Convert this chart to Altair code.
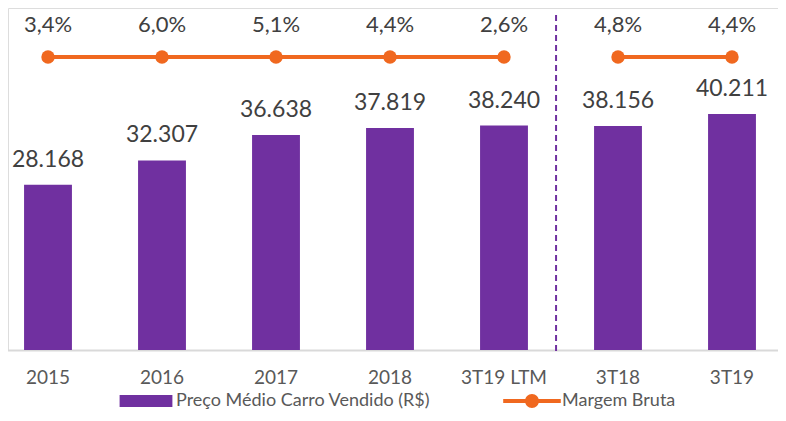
import altair as alt
import pandas as pd

categorias = ["2015", "2016", "2017", "2018", "3T19 LTM", "3T18", "3T19"]
preco_medio = [28168, 32307, 36638, 37819, 38240, 38156, 40211]
margem_bruta = [3.4, 6.0, 5.1, 4.4, 2.6, 4.8, 4.4]
grupo = ["anual", "anual", "anual", "anual", "anual", "trimestral", "trimestral"]

SERIE_BAR = "Preço Médio Carro Vendido (R$)"
SERIE_LINE = "Margem Bruta"
ROXO = "#7030A0"
LARANJA = "#F0681F"
FONTE = "Lato"

df = pd.DataFrame({
    "cat": categorias,
    "preco": preco_medio,
    "margem": margem_bruta,
    "grupo": grupo,
})

x_enc = alt.X(
    "cat:N",
    sort=categorias,
    scale=alt.Scale(range=[-17, 781], paddingInner=0.58, paddingOuter=0.29),
    axis=alt.Axis(
        title=None, labelAngle=0, ticks=False, grid=False,
        domainColor="#D9D9D9", domainWidth=2,
        labelFont=FONTE, labelFontSize=19, labelColor="#595959",
        labelPadding=18,
    ),
)

color_scale = alt.Scale(domain=[SERIE_BAR, SERIE_LINE], range=[ROXO, LARANJA])

line_path = ("M-2.4,-0.17H-0.5V0.17H-2.4Z M0.5,-0.17H2.4V0.17H0.5Z "
             "M0.58,0A0.58,0.58 0 1,1 -0.58,0A0.58,0.58 0 1,1 0.58,0Z")
bar_path = "M-2.2,-0.5H2.2V0.5H-2.2Z"

legend = alt.Legend(
    title=None, orient="none", legendX=126, legendY=381,
    direction="horizontal", symbolSize=576, labelOffset=18,
    labelFont=FONTE, labelFontSize=18, labelColor="#595959", labelLimit=400,
    columnPadding=72, symbolStrokeWidth=0, symbolOpacity=1,
    symbolType=alt.ExprRef(f"datum.value === '{SERIE_LINE}' ? '{line_path}' : '{bar_path}'"),
)

base = alt.Chart(df)

y_scale = alt.Scale(domain=[0, 58272])

bars = base.transform_calculate(serie=f"'{SERIE_BAR}'").mark_bar().encode(
    x=x_enc,
    y=alt.Y("preco:Q", scale=y_scale, axis=None),
    color=alt.Color("serie:N", scale=color_scale, legend=legend),
)

bar_labels = base.transform_calculate(
    rotulo="replace(format(datum.preco, ',d'), ',', '.')"
).mark_text(
    dy=-18, baseline="alphabetic", font=FONTE, fontSize=23, color="#404040"
).encode(
    x=x_enc,
    y=alt.Y("preco:Q", scale=y_scale, axis=None),
    text="rotulo:N",
)

line = base.transform_calculate(serie=f"'{SERIE_LINE}'").mark_line(strokeWidth=4).encode(
    x=x_enc,
    y=alt.value(49),
    detail="grupo:N",
    color=alt.Color("serie:N", scale=color_scale, legend=legend),
)

points = base.transform_calculate(serie=f"'{SERIE_LINE}'").mark_circle(size=180, opacity=1).encode(
    x=x_enc,
    y=alt.value(49),
    color=alt.Color("serie:N", scale=color_scale, legend=legend),
)

margin_labels = base.transform_calculate(
    rotulo="replace(format(datum.margem, '.1f'), '.', ',') + '%'"
).mark_text(
    baseline="alphabetic", font=FONTE, fontSize=22, color="#404040"
).encode(
    x=x_enc,
    y=alt.value(24),
    text="rotulo:N",
)

divisor = base.transform_filter("datum.cat === '3T18'").mark_rule(
    strokeDash=[6, 4], strokeWidth=2, color=ROXO
).encode(
    x=x_enc,
    xOffset=alt.value(-38),
    y=alt.value(7),
    y2=alt.value(347),
)

chart = alt.layer(bars, bar_labels, divisor, line, points, margin_labels).properties(
    width=770,
    height=342,
    autosize=alt.AutoSizeParams(type="none"),
    padding={"left": 0, "right": 0, "top": 0, "bottom": 63},
).configure_view(stroke=None).configure(font=FONTE)

chart.save("out.html", embed_options={"renderer": "svg", "actions": False})
